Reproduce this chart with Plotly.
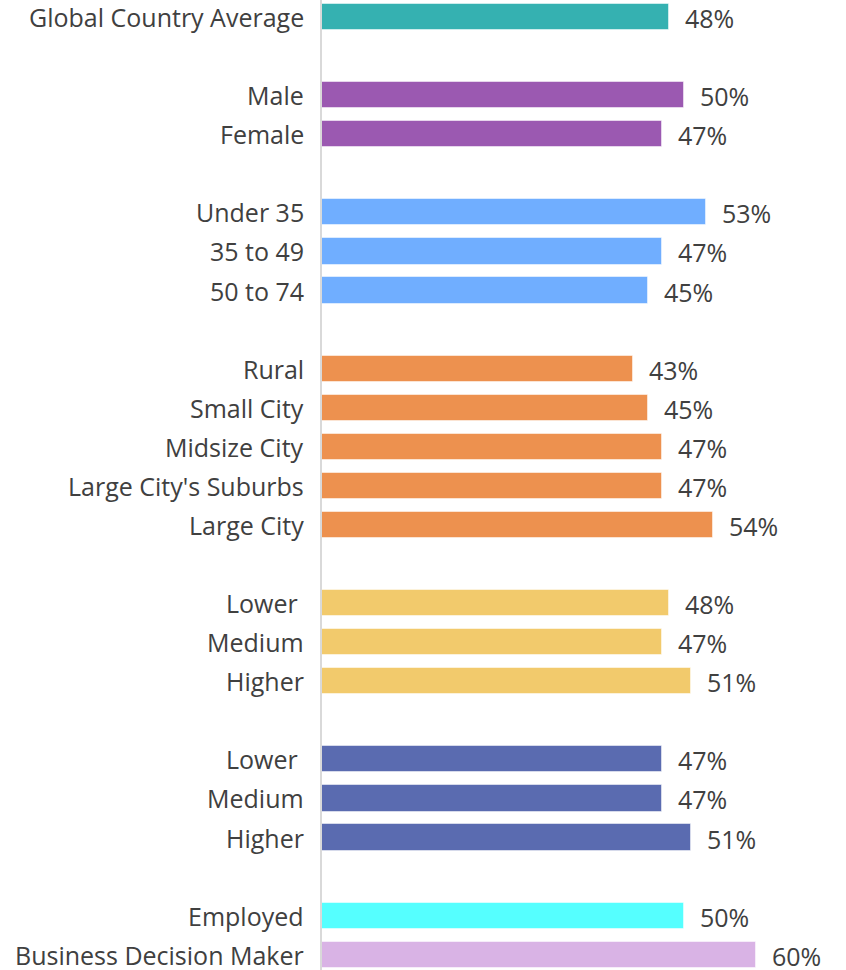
import plotly.graph_objects as go

# Category labels, values (%) and group colours; None marks a spacer row between groups
categories = [
    "Global Country Average", None,
    "Male", "Female", None,
    "Under 35", "35 to 49", "50 to 74", None,
    "Rural", "Small City", "Midsize City", "Large City's Suburbs", "Large City", None,
    "Lower\u00a0", "Medium", "Higher", None,
    "Lower\u00a0", "Medium", "Higher", None,
    "Employed", "Business Decision Maker",
]
values = [
    48, None,
    50, 47, None,
    53, 47, 45, None,
    43, 45, 47, 47, 54, None,
    48, 47, 51, None,
    47, 47, 51, None,
    50, 60,
]
colors = [
    "#35B1B1", None,
    "#9B59B1", "#9B59B1", None,
    "#70AEFF", "#70AEFF", "#70AEFF", None,
    "#ED914F", "#ED914F", "#ED914F", "#ED914F", "#ED914F", None,
    "#F2CA6C", "#F2CA6C", "#F2CA6C", None,
    "#5A6BB0", "#5A6BB0", "#5A6BB0", None,
    "#55FFFF", "#D9B3E5",
]

rows = [i for i, c in enumerate(categories) if c is not None]
bar_vals = [values[i] for i in rows]
bar_cols = [colors[i] for i in rows]
row_text = [categories[i] for i in rows]

FONT = "Open Sans, Noto Sans, sans-serif"
TEXT_COLOR = "#404040"
SIZE = 25

fig = go.Figure(
    go.Bar(
        x=bar_vals,
        y=rows,
        orientation="h",
        width=0.67,
        marker=dict(color=bar_cols, line=dict(color="rgba(255,255,255,0.5)", width=1)),
        hoverinfo="skip",
    )
)

for r, v, label in zip(rows, bar_vals, row_text):
    # category label, right-aligned left of the axis line
    fig.add_annotation(
        x=0, xref="paper", y=r, text=label, showarrow=False,
        xanchor="right", yanchor="middle", xshift=-16, yshift=0,
        font=dict(family=FONT, size=SIZE, color=TEXT_COLOR),
    )
    # value label just past the end of the bar
    fig.add_annotation(
        x=v, y=r, text=f"{v}%", showarrow=False,
        xanchor="left", yanchor="middle", xshift=14, yshift=-1,
        font=dict(family=FONT, size=SIZE, color=TEXT_COLOR),
    )

fig.update_layout(
    width=846, height=970,
    margin=dict(l=322, r=0, t=0, b=0),
    paper_bgcolor="white", plot_bgcolor="white",
    showlegend=False,
    bargap=0,
    font=dict(family=FONT, size=SIZE, color=TEXT_COLOR),
)
fig.update_xaxes(
    range=[0, 72.4], showgrid=False, zeroline=False,
    showticklabels=False, showline=False, fixedrange=True,
)
fig.update_yaxes(
    range=[24.39, -0.435],
    showticklabels=False, showgrid=False, zeroline=False,
    showline=True, linecolor="#D9D9D9", linewidth=2,
    ticks="", fixedrange=True,
)

fig.write_html("out.html")
